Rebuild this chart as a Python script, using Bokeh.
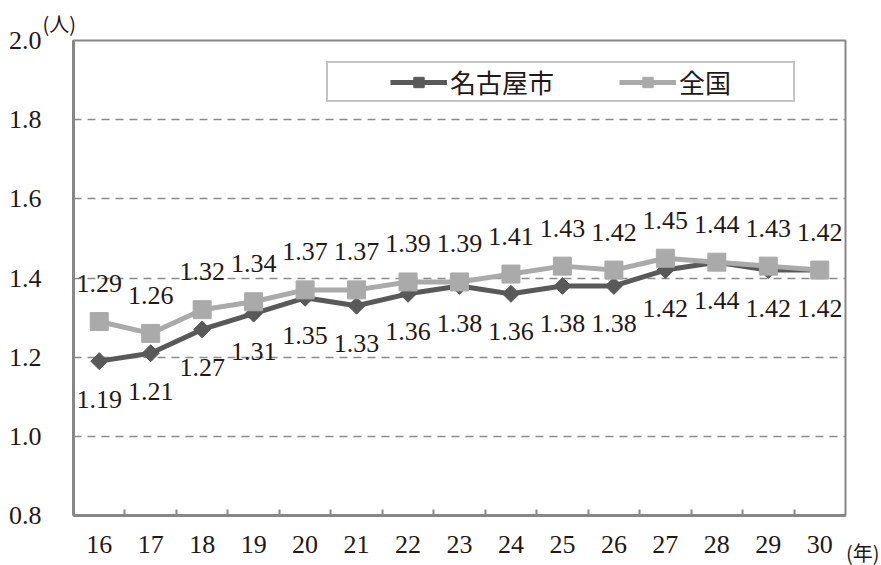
import math
from bokeh.plotting import figure
from bokeh.models import (ColumnDataSource, LabelSet, Legend, LegendItem,
                          FixedTicker, Range1d, Title)
from bokeh.embed import file_html
from bokeh.resources import INLINE

years = ["16", "17", "18", "19", "20", "21", "22", "23", "24", "25", "26", "27", "28", "29", "30"]
nagoya = [1.19, 1.21, 1.27, 1.31, 1.35, 1.33, 1.36, 1.38, 1.36, 1.38, 1.38, 1.42, 1.44, 1.42, 1.42]
national = [1.29, 1.26, 1.32, 1.34, 1.37, 1.37, 1.39, 1.39, 1.41, 1.43, 1.42, 1.45, 1.44, 1.43, 1.42]
y_ticks = [0.8, 1.0, 1.2, 1.4, 1.6, 1.8, 2.0]
series_names = ["名古屋市", "全国"]
y_unit = "(人)"
x_unit = "(年)"

SERIF = "Liberation Serif"
CJK = "Noto Sans CJK JP"
TXT = "#231815"
DARK = "#595959"
LIGHT = "#aaaaaa"
AXIS = "#878787"

xs = list(range(1, len(years) + 1))
src_n = ColumnDataSource(dict(x=xs, y=nagoya, t=[f"{v:.2f}" for v in nagoya]))
src_z = ColumnDataSource(dict(x=xs, y=national, t=[f"{v:.2f}" for v in national]))

p = figure(width=881, height=565, output_backend="svg", toolbar_location=None,
           x_range=Range1d(0.5, len(years) + 0.5), y_range=Range1d(y_ticks[0], y_ticks[-1]),
           min_border_left=73, min_border_right=36, min_border_top=40, min_border_bottom=50)
p.background_fill_color = "white"
p.border_fill_color = "white"
p.outline_line_color = AXIS
p.outline_line_width = 2

# unit of y axis, as a title above the frame
p.add_layout(Title(text=y_unit, align="left", offset=-31, standoff=5,
                   text_font=CJK, text_font_size="20px", text_font_style="normal",
                   text_color=TXT), "above")

# axes
p.xaxis.ticker = FixedTicker(ticks=xs, minor_ticks=[i + 0.5 for i in xs[:-1]])
p.xaxis.major_label_overrides = {i: y for i, y in zip(xs, years)}
p.xaxis.major_tick_line_color = None
p.xaxis.minor_tick_line_color = AXIS
p.xaxis.minor_tick_line_width = 2
p.xaxis.minor_tick_in = 6
p.xaxis.minor_tick_out = 0
p.xaxis.major_label_standoff = 14
p.yaxis.ticker = FixedTicker(ticks=y_ticks)
p.yaxis.major_label_overrides = {v: f"{v:.1f}" for v in y_ticks}
p.yaxis.major_tick_line_color = None
p.yaxis.minor_tick_line_color = None
p.yaxis.major_label_standoff = 26
for ax in (p.xaxis, p.yaxis):
    ax.axis_line_color = AXIS
    ax.axis_line_width = 3
    ax.major_label_text_font = SERIF
    ax.major_label_text_font_size = "26px"
    ax.major_label_text_color = TXT

# unit of x axis, as a title below the axis, pulled up beside the last tick label
p.add_layout(Title(text=x_unit, align="right", offset=-34, standoff=-36,
                   vertical_align="top",
                   text_font=CJK, text_font_size="20px", text_font_style="normal",
                   text_color=TXT), "below")

p.xgrid.grid_line_color = None
p.ygrid.ticker = FixedTicker(ticks=y_ticks[1:-1])
p.ygrid.grid_line_color = "#8a8a8a"
p.ygrid.grid_line_width = 1.6
p.ygrid.grid_line_dash = "8 6"

# series
ln = p.line("x", "y", source=src_n, line_color=DARK, line_width=5)
mn = p.scatter("x", "y", source=src_n, marker="square", angle=math.pi / 4, size=12,
               fill_color=DARK, line_color=DARK)
lz = p.line("x", "y", source=src_z, line_color=LIGHT, line_width=5)
mz = p.scatter("x", "y", source=src_z, marker="square", size=18,
               fill_color=LIGHT, line_color=LIGHT)

# data labels
p.add_layout(LabelSet(x="x", y="y", text="t", source=src_n, y_offset=-38,
                      text_align="center", text_baseline="middle",
                      text_font=SERIF, text_font_size="26px", text_color=TXT))
p.add_layout(LabelSet(x="x", y="y", text="t", source=src_z, y_offset=38,
                      text_align="center", text_baseline="middle",
                      text_font=SERIF, text_font_size="26px", text_color=TXT))

# legend
legend = Legend(items=[LegendItem(label=series_names[0], renderers=[ln, mn]),
                       LegendItem(label=series_names[1], renderers=[lz, mz])],
                orientation="horizontal", location=(253, 413),
                padding=0, spacing=55, glyph_width=57, glyph_height=26,
                label_height=26, label_width=114, label_standoff=3,
                label_text_font=CJK, label_text_font_size="26px", label_text_color=TXT,
                border_line_color=AXIS, border_line_width=2,
                title="\u00a0", title_location="left", title_standoff=53,
                title_text_font_size="8px", margin=0)
p.add_layout(legend)

open("out.html", "w").write(file_html(p, INLINE))
